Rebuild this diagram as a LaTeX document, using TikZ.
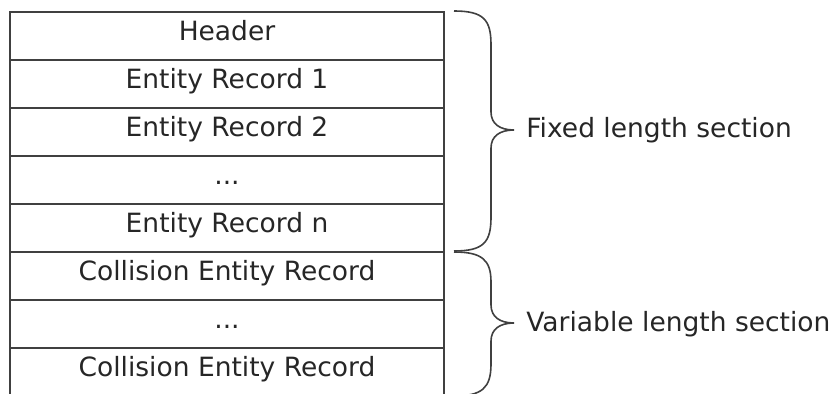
\documentclass[tikz,border=0pt]{standalone}
\usepackage{fontspec}
\setmainfont{DejaVu Sans}
\definecolor{linegray}{HTML}{404040}
\definecolor{txt}{HTML}{262626}
\begin{document}
\begin{tikzpicture}[x=0.5pt,y=-0.5pt,
  rowbox/.style={draw=linegray, line width=1pt, minimum width=217pt, minimum height=24pt,
    inner sep=0pt, anchor=north west, font=\fontsize{13.25}{16}\selectfont, text=txt,
    text height=0.75em, text depth=0.25em},
  bracepath/.style={draw=linegray, line width=0.8pt},
  lbl/.style={anchor=west, inner sep=0pt, font=\fontsize{13.25}{16}\selectfont, text=txt}]
\useasboundingbox (0,0) rectangle (834,394);
\node[rowbox] (r1) at (9,11)  {Header};
\node[rowbox] (r2) at (9,59)  {Entity Record 1};
\node[rowbox] (r3) at (9,107) {Entity Record 2};
\node[rowbox] (r4) at (9,155) {...};
\node[rowbox] (r5) at (9,203) {Entity Record n};
\node[rowbox] (r6) at (9,251) {Collision Entity Record};
\node[rowbox] (r7) at (9,299) {...};
\node[rowbox] (r8) at (9,347) {Collision Entity Record};
% fixed length brace
\coordinate (b1s) at (454,11);
\coordinate (b1t) at (514,130);
\coordinate (b1e) at (454,251);
\draw[bracepath] (b1s) .. controls (484,11) and (491,20) .. (491,45)
  -- (491,112) .. controls (491,124) and (500,130) .. (b1t)
  .. controls (500,130) and (491,136) .. (491,148)
  -- (491,217) .. controls (491,242) and (484,251) .. (b1e);
\node[lbl] (fixed) at (526,130) {Fixed length section};
% variable length brace
\coordinate (b2s) at (454,252);
\coordinate (b2t) at (514,323);
\coordinate (b2e) at (454,396);
\draw[bracepath] (b2s) .. controls (482,252) and (491,260) .. (491,282)
  -- (491,305) .. controls (491,317) and (500,323) .. (b2t)
  .. controls (500,323) and (491,329) .. (491,341)
  -- (491,364) .. controls (491,388) and (482,396) .. (b2e);
\node[lbl] (variable) at (526,324) {Variable length section};
\end{tikzpicture}
\end{document}
